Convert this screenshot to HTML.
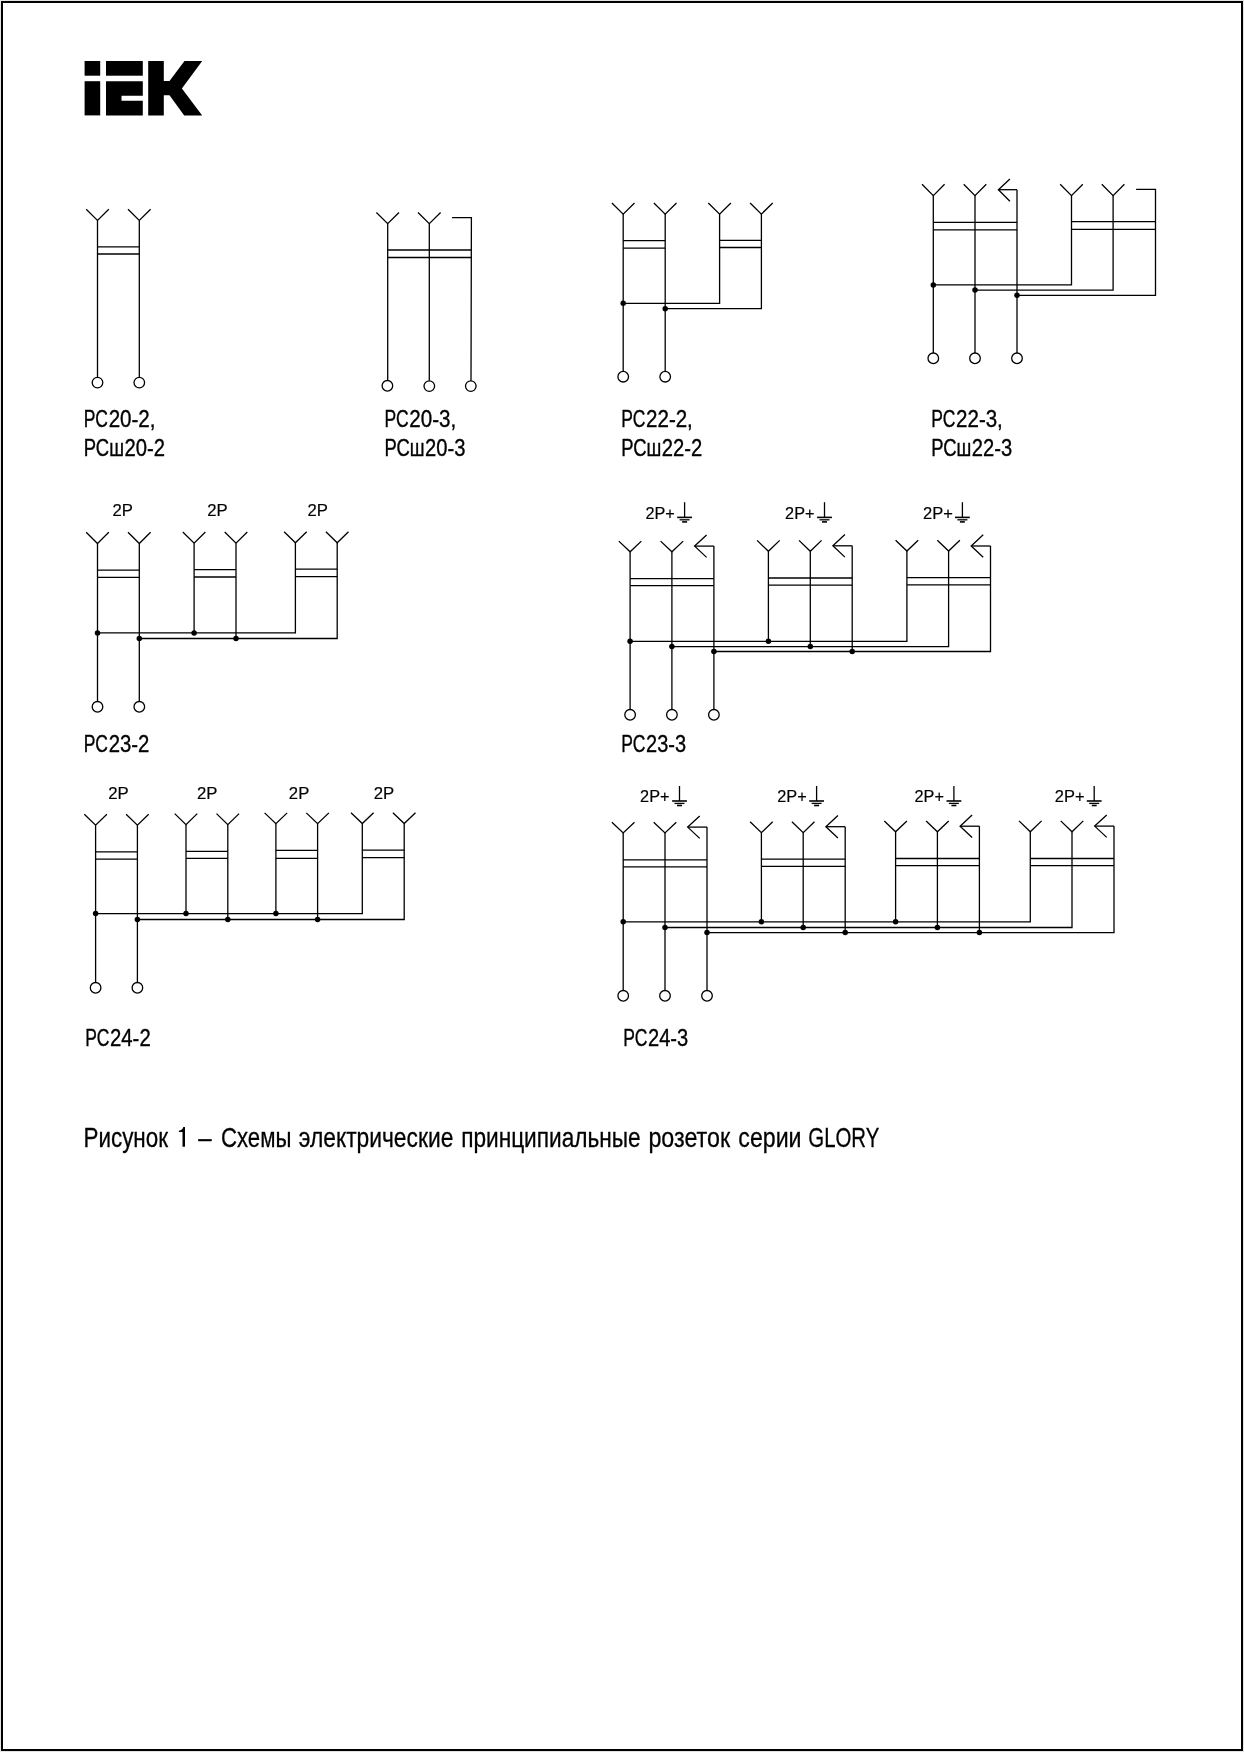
<!DOCTYPE html>
<html lang="ru">
<head>
<meta charset="utf-8">
<title>IEK – Схемы электрические принципиальные розеток серии GLORY</title>
<style>
html,body{margin:0;padding:0;background:#fff;}
body{width:1244px;height:1752px;overflow:hidden;font-family:"Liberation Sans",sans-serif;}
svg{display:block;}
svg text{font-family:"Liberation Sans",sans-serif;fill:#000;}
</style>
</head>
<body>
<svg width="1244" height="1752" viewBox="0 0 1244 1752">
<rect x="0" y="0" width="1244" height="1752" fill="#e4e4e4"/>
<rect x="2" y="2" width="1240" height="1748" fill="#fff" stroke="#000" stroke-width="2"/>
<g fill="#000" stroke="none">
<rect x="84.6" y="61" width="15.6" height="14.7"/>
<rect x="84.6" y="81.2" width="15.6" height="34.2"/>
<rect x="106" y="61" width="36.8" height="14.7"/>
<path d="M106 81.2H142.8V95.7H121.5V100.8H142.8V115.4H106Z"/>
<path d="M148.2 61H163.8V81H169.5L184.5 61H202.2L181.9 88.5L202.2 115.4H184.2L169.5 95.3H163.8V115.4H148.2Z"/>
</g>
<g fill="none" stroke="#000" stroke-width="1.3" stroke-linecap="butt" stroke-linejoin="miter">
<polyline points="86.2,209.3 97.5,220.4 108.8,209.3"/>
<line x1="97.5" y1="220.4" x2="97.5" y2="377.3"/>
<circle cx="97.5" cy="382.6" r="5.3"/>
<polyline points="128.0,209.3 139.3,220.4 150.6,209.3"/>
<line x1="139.3" y1="220.4" x2="139.3" y2="377.3"/>
<circle cx="139.3" cy="382.6" r="5.3"/>
<line x1="97.5" y1="246.8" x2="139.3" y2="246.8"/>
<line x1="97.5" y1="254.0" x2="139.3" y2="254.0"/>
<polyline points="376.4,212.5 387.7,223.6 399.0,212.5"/>
<line x1="387.7" y1="223.6" x2="387.7" y2="380.5"/>
<circle cx="387.4" cy="385.8" r="5.3"/>
<polyline points="418.0,212.5 429.3,223.6 440.6,212.5"/>
<line x1="429.3" y1="223.6" x2="429.3" y2="380.8"/>
<circle cx="429.3" cy="386.1" r="5.3"/>
<polyline points="452.1,217.7 471.4,217.7 471.0,380.8"/>
<circle cx="470.8" cy="386.1" r="5.3"/>
<line x1="387.7" y1="250.0" x2="471.4" y2="250.0"/>
<line x1="387.7" y1="257.5" x2="471.4" y2="257.5"/>
<polyline points="611.9,203.0 623.2,214.1 634.5,203.0"/>
<polyline points="653.9,203.0 665.2,214.1 676.5,203.0"/>
<polyline points="708.3,203.0 719.6,214.1 730.9,203.0"/>
<polyline points="750.1,203.0 761.4,214.1 772.7,203.0"/>
<line x1="623.2" y1="214.1" x2="623.2" y2="371.4"/>
<circle cx="623.2" cy="376.7" r="5.3"/>
<line x1="665.2" y1="214.1" x2="665.2" y2="371.4"/>
<circle cx="665.2" cy="376.7" r="5.3"/>
<polyline points="719.6,214.1 719.6,303.3 623.2,303.3"/>
<circle cx="623.2" cy="303.3" r="2.75" fill="#000" stroke="none"/>
<polyline points="761.4,214.1 761.4,308.7 665.2,308.7"/>
<circle cx="665.2" cy="308.7" r="2.75" fill="#000" stroke="none"/>
<line x1="623.2" y1="240.7" x2="665.2" y2="240.7"/>
<line x1="623.2" y1="248.1" x2="665.2" y2="248.1"/>
<line x1="719.6" y1="240.3" x2="761.4" y2="240.3"/>
<line x1="719.6" y1="247.5" x2="761.4" y2="247.5"/>
<polyline points="922.0,184.3 933.3,195.6 944.6,184.3"/>
<polyline points="963.7,184.3 975.0,195.6 986.3,184.3"/>
<polyline points="1060.2,184.3 1071.5,195.6 1082.8,184.3"/>
<polyline points="1101.8,184.3 1113.1,195.6 1124.4,184.3"/>
<line x1="933.3" y1="195.6" x2="933.3" y2="353.0"/>
<circle cx="933.3" cy="358.3" r="5.3"/>
<line x1="975.0" y1="195.6" x2="975.0" y2="353.0"/>
<circle cx="975.0" cy="358.3" r="5.3"/>
<line x1="998.4" y1="189.7" x2="1017.0" y2="189.7"/>
<polyline points="1009.9,179.1 998.4,189.7 1009.9,201.2"/>
<line x1="1017.0" y1="189.7" x2="1017.0" y2="353.0"/>
<circle cx="1017.0" cy="358.3" r="5.3"/>
<polyline points="1071.5,195.6 1071.5,284.9 933.3,284.9"/>
<circle cx="933.3" cy="284.9" r="2.75" fill="#000" stroke="none"/>
<polyline points="1113.1,195.6 1113.1,290.1 975.0,290.1"/>
<circle cx="975.0" cy="290.1" r="2.75" fill="#000" stroke="none"/>
<polyline points="1136.1,189.3 1155.5,189.3 1155.5,295.3 1017.0,295.3"/>
<circle cx="1017.0" cy="295.3" r="2.75" fill="#000" stroke="none"/>
<line x1="933.3" y1="222.3" x2="1017.0" y2="222.3"/>
<line x1="933.3" y1="229.8" x2="1017.0" y2="229.8"/>
<line x1="1071.5" y1="221.7" x2="1155.5" y2="221.7"/>
<line x1="1071.5" y1="229.4" x2="1155.5" y2="229.4"/>
<polyline points="86.2,532.3 97.5,543.5 108.8,532.3"/>
<polyline points="128.0,532.3 139.3,543.5 150.6,532.3"/>
<line x1="97.5" y1="570.2" x2="139.3" y2="570.2"/>
<line x1="97.5" y1="577.4" x2="139.3" y2="577.4"/>
<polyline points="182.8,532.0 194.1,543.2 205.4,532.0"/>
<polyline points="224.7,532.0 236.0,543.2 247.3,532.0"/>
<line x1="194.1" y1="569.6" x2="236.0" y2="569.6"/>
<line x1="194.1" y1="577.0" x2="236.0" y2="577.0"/>
<polyline points="284.1,531.7 295.4,542.8 306.7,531.7"/>
<polyline points="325.9,531.7 337.2,542.8 348.5,531.7"/>
<line x1="295.4" y1="569.2" x2="337.2" y2="569.2"/>
<line x1="295.4" y1="576.7" x2="337.2" y2="576.7"/>
<line x1="97.5" y1="543.5" x2="97.5" y2="701.5"/>
<circle cx="97.5" cy="706.8" r="5.3"/>
<line x1="139.3" y1="543.5" x2="139.3" y2="701.5"/>
<circle cx="139.3" cy="706.8" r="5.3"/>
<line x1="194.1" y1="543.2" x2="194.1" y2="632.9"/>
<line x1="236.0" y1="543.2" x2="236.0" y2="638.5"/>
<polyline points="295.4,542.8 295.4,632.9 97.5,632.9"/>
<polyline points="337.2,542.8 337.2,638.5 139.3,638.5"/>
<circle cx="97.5" cy="632.9" r="2.75" fill="#000" stroke="none"/>
<circle cx="194.1" cy="632.9" r="2.75" fill="#000" stroke="none"/>
<circle cx="139.3" cy="638.5" r="2.75" fill="#000" stroke="none"/>
<circle cx="236.0" cy="638.5" r="2.75" fill="#000" stroke="none"/>
<polyline points="618.8,541.1 630.1,551.8 641.4,541.1"/>
<polyline points="660.6,541.1 671.9,551.8 683.2,541.1"/>
<line x1="694.6" y1="546.1" x2="713.9" y2="546.1"/>
<polyline points="706.6,534.9 694.6,546.1 706.6,557.4"/>
<line x1="630.1" y1="578.6" x2="713.9" y2="578.6"/>
<line x1="630.1" y1="585.6" x2="713.9" y2="585.6"/>
<polyline points="757.1,540.4 768.4,551.3 779.7,540.4"/>
<polyline points="799.0,540.4 810.3,551.3 821.6,540.4"/>
<line x1="832.9" y1="545.8" x2="852.2" y2="545.8"/>
<polyline points="844.9,534.6 832.9,545.8 844.9,557.1"/>
<line x1="768.4" y1="578.0" x2="852.2" y2="578.0"/>
<line x1="768.4" y1="585.2" x2="852.2" y2="585.2"/>
<polyline points="895.6,540.2 906.9,551.0 918.2,540.2"/>
<polyline points="937.3,540.2 948.6,551.0 959.9,540.2"/>
<line x1="971.2" y1="546.0" x2="990.5" y2="546.0"/>
<polyline points="983.2,534.8 971.2,546.0 983.2,557.3"/>
<line x1="906.9" y1="577.6" x2="990.5" y2="577.6"/>
<line x1="906.9" y1="584.9" x2="990.5" y2="584.9"/>
<line x1="630.1" y1="551.8" x2="630.1" y2="709.5"/>
<circle cx="630.1" cy="714.8" r="5.3"/>
<circle cx="630.1" cy="641.3" r="2.75" fill="#000" stroke="none"/>
<line x1="671.9" y1="551.8" x2="671.9" y2="709.5"/>
<circle cx="671.9" cy="714.8" r="5.3"/>
<circle cx="671.9" cy="646.6" r="2.75" fill="#000" stroke="none"/>
<line x1="713.9" y1="546.1" x2="713.9" y2="709.5"/>
<circle cx="713.9" cy="714.8" r="5.3"/>
<circle cx="713.9" cy="651.5" r="2.75" fill="#000" stroke="none"/>
<line x1="768.4" y1="551.3" x2="768.4" y2="641.3"/>
<circle cx="768.4" cy="641.3" r="2.75" fill="#000" stroke="none"/>
<line x1="810.3" y1="551.3" x2="810.3" y2="646.6"/>
<circle cx="810.3" cy="646.6" r="2.75" fill="#000" stroke="none"/>
<line x1="852.2" y1="545.8" x2="852.2" y2="651.5"/>
<circle cx="852.2" cy="651.5" r="2.75" fill="#000" stroke="none"/>
<polyline points="906.9,551.0 906.9,641.3 630.1,641.3"/>
<polyline points="948.6,551.0 948.6,646.6 671.9,646.6"/>
<polyline points="990.5,546.0 990.5,651.5 713.9,651.5"/>
<polyline points="84.3,814.3 95.6,825.2 106.9,814.3"/>
<polyline points="126.1,814.3 137.4,825.2 148.7,814.3"/>
<line x1="95.6" y1="851.9" x2="137.4" y2="851.9"/>
<line x1="95.6" y1="859.1" x2="137.4" y2="859.1"/>
<polyline points="174.7,813.6 186.0,824.6 197.3,813.6"/>
<polyline points="216.5,813.6 227.8,824.6 239.1,813.6"/>
<line x1="186.0" y1="851.4" x2="227.8" y2="851.4"/>
<line x1="186.0" y1="858.4" x2="227.8" y2="858.4"/>
<polyline points="264.6,812.9 275.9,823.6 287.2,812.9"/>
<polyline points="306.3,812.9 317.6,823.6 328.9,812.9"/>
<line x1="275.9" y1="850.4" x2="317.6" y2="850.4"/>
<line x1="275.9" y1="858.3" x2="317.6" y2="858.3"/>
<polyline points="351.0,812.8 362.3,823.5 373.6,812.8"/>
<polyline points="392.9,812.8 404.2,823.5 415.5,812.8"/>
<line x1="362.3" y1="850.2" x2="404.2" y2="850.2"/>
<line x1="362.3" y1="857.6" x2="404.2" y2="857.6"/>
<line x1="95.6" y1="825.2" x2="95.6" y2="982.5"/>
<circle cx="95.6" cy="987.8" r="5.3"/>
<line x1="137.4" y1="825.2" x2="137.4" y2="982.5"/>
<circle cx="137.4" cy="987.8" r="5.3"/>
<line x1="186.0" y1="824.6" x2="186.0" y2="913.6"/>
<line x1="227.8" y1="824.6" x2="227.8" y2="919.5"/>
<line x1="275.9" y1="823.6" x2="275.9" y2="913.6"/>
<line x1="317.6" y1="823.6" x2="317.6" y2="919.5"/>
<polyline points="362.3,823.5 362.3,913.6 95.6,913.6"/>
<polyline points="404.2,823.5 404.2,919.5 137.4,919.5"/>
<circle cx="95.6" cy="913.6" r="2.75" fill="#000" stroke="none"/>
<circle cx="186.0" cy="913.6" r="2.75" fill="#000" stroke="none"/>
<circle cx="275.9" cy="913.6" r="2.75" fill="#000" stroke="none"/>
<circle cx="137.4" cy="919.5" r="2.75" fill="#000" stroke="none"/>
<circle cx="227.8" cy="919.5" r="2.75" fill="#000" stroke="none"/>
<circle cx="317.6" cy="919.5" r="2.75" fill="#000" stroke="none"/>
<polyline points="611.9,822.3 623.2,832.9 634.5,822.3"/>
<polyline points="653.7,822.3 665.0,832.9 676.3,822.3"/>
<line x1="687.7" y1="827.1" x2="707.0" y2="827.1"/>
<polyline points="699.7,815.9 687.7,827.1 699.7,838.4"/>
<line x1="623.2" y1="859.8" x2="707.0" y2="859.8"/>
<line x1="623.2" y1="866.8" x2="707.0" y2="866.8"/>
<polyline points="750.1,821.8 761.4,832.6 772.7,821.8"/>
<polyline points="791.9,821.8 803.2,832.6 814.5,821.8"/>
<line x1="825.9" y1="826.7" x2="845.2" y2="826.7"/>
<polyline points="837.9,815.5 825.9,826.7 837.9,838.0"/>
<line x1="761.4" y1="859.2" x2="845.2" y2="859.2"/>
<line x1="761.4" y1="866.4" x2="845.2" y2="866.4"/>
<polyline points="884.3,821.0 895.6,831.8 906.9,821.0"/>
<polyline points="926.1,821.0 937.4,831.8 948.7,821.0"/>
<line x1="960.1" y1="826.2" x2="979.4" y2="826.2"/>
<polyline points="972.1,815.0 960.1,826.2 972.1,837.5"/>
<line x1="895.6" y1="858.5" x2="979.4" y2="858.5"/>
<line x1="895.6" y1="865.6" x2="979.4" y2="865.6"/>
<polyline points="1019.0,820.9 1030.3,831.8 1041.6,820.9"/>
<polyline points="1060.7,820.9 1072.0,831.8 1083.3,820.9"/>
<line x1="1094.7" y1="826.1" x2="1114.0" y2="826.1"/>
<polyline points="1106.7,814.9 1094.7,826.1 1106.7,837.4"/>
<line x1="1030.3" y1="858.5" x2="1114.0" y2="858.5"/>
<line x1="1030.3" y1="865.6" x2="1114.0" y2="865.6"/>
<line x1="623.2" y1="832.9" x2="623.2" y2="990.5"/>
<circle cx="623.2" cy="995.8" r="5.3"/>
<circle cx="623.2" cy="921.8" r="2.75" fill="#000" stroke="none"/>
<line x1="665.0" y1="832.9" x2="665.0" y2="990.5"/>
<circle cx="665.0" cy="995.8" r="5.3"/>
<circle cx="665.0" cy="927.5" r="2.75" fill="#000" stroke="none"/>
<line x1="707.0" y1="827.1" x2="707.0" y2="990.5"/>
<circle cx="707.0" cy="995.8" r="5.3"/>
<circle cx="707.0" cy="932.6" r="2.75" fill="#000" stroke="none"/>
<line x1="761.4" y1="832.6" x2="761.4" y2="921.8"/>
<circle cx="761.4" cy="921.8" r="2.75" fill="#000" stroke="none"/>
<line x1="803.2" y1="832.6" x2="803.2" y2="927.5"/>
<circle cx="803.2" cy="927.5" r="2.75" fill="#000" stroke="none"/>
<line x1="845.2" y1="826.7" x2="845.2" y2="932.6"/>
<circle cx="845.2" cy="932.6" r="2.75" fill="#000" stroke="none"/>
<line x1="895.6" y1="831.8" x2="895.6" y2="921.8"/>
<circle cx="895.6" cy="921.8" r="2.75" fill="#000" stroke="none"/>
<line x1="937.4" y1="831.8" x2="937.4" y2="927.5"/>
<circle cx="937.4" cy="927.5" r="2.75" fill="#000" stroke="none"/>
<line x1="979.4" y1="826.2" x2="979.4" y2="932.6"/>
<circle cx="979.4" cy="932.6" r="2.75" fill="#000" stroke="none"/>
<polyline points="1030.3,831.8 1030.3,921.8 623.2,921.8"/>
<polyline points="1072.0,831.8 1072.0,927.5 665.0,927.5"/>
<polyline points="1114.0,826.1 1114.0,932.6 707.0,932.6"/>
<line x1="684.6" y1="502.2" x2="684.6" y2="517.4"/>
<line x1="677.2" y1="517.4" x2="692.0" y2="517.4" stroke-width="1.6"/>
<line x1="679.6" y1="519.8" x2="689.6" y2="519.8" stroke-width="1.3"/>
<line x1="682.1" y1="521.9" x2="687.1" y2="521.9" stroke-width="1.6"/>
<line x1="824.5" y1="502.2" x2="824.5" y2="517.4"/>
<line x1="817.1" y1="517.4" x2="831.9" y2="517.4" stroke-width="1.6"/>
<line x1="819.5" y1="519.8" x2="829.5" y2="519.8" stroke-width="1.3"/>
<line x1="822.0" y1="521.9" x2="827.0" y2="521.9" stroke-width="1.6"/>
<line x1="962.4" y1="502.2" x2="962.4" y2="517.4"/>
<line x1="955.0" y1="517.4" x2="969.8" y2="517.4" stroke-width="1.6"/>
<line x1="957.4" y1="519.8" x2="967.4" y2="519.8" stroke-width="1.3"/>
<line x1="959.9" y1="521.9" x2="964.9" y2="521.9" stroke-width="1.6"/>
<line x1="679.5" y1="786.0" x2="679.5" y2="801.0"/>
<line x1="672.1" y1="801.0" x2="686.9" y2="801.0" stroke-width="1.6"/>
<line x1="674.5" y1="803.4" x2="684.5" y2="803.4" stroke-width="1.3"/>
<line x1="677.0" y1="805.5" x2="682.0" y2="805.5" stroke-width="1.6"/>
<line x1="816.6" y1="786.0" x2="816.6" y2="801.0"/>
<line x1="809.2" y1="801.0" x2="824.0" y2="801.0" stroke-width="1.6"/>
<line x1="811.6" y1="803.4" x2="821.6" y2="803.4" stroke-width="1.3"/>
<line x1="814.1" y1="805.5" x2="819.1" y2="805.5" stroke-width="1.6"/>
<line x1="953.9" y1="786.0" x2="953.9" y2="801.0"/>
<line x1="946.5" y1="801.0" x2="961.3" y2="801.0" stroke-width="1.6"/>
<line x1="948.9" y1="803.4" x2="958.9" y2="803.4" stroke-width="1.3"/>
<line x1="951.4" y1="805.5" x2="956.4" y2="805.5" stroke-width="1.6"/>
<line x1="1094.2" y1="786.0" x2="1094.2" y2="801.0"/>
<line x1="1086.8" y1="801.0" x2="1101.6" y2="801.0" stroke-width="1.6"/>
<line x1="1089.2" y1="803.4" x2="1099.2" y2="803.4" stroke-width="1.3"/>
<line x1="1091.8" y1="805.5" x2="1096.7" y2="805.5" stroke-width="1.6"/>
</g>
<g style="opacity:0.999">
<text transform="translate(83.87,427.4) scale(0.7106,1)" font-size="24.6" stroke="#000" stroke-width="0.4">РС</text>
<text transform="translate(108.67,427.4) scale(0.8360,1)" font-size="24.6" stroke="#000" stroke-width="0.4">20-2,</text>
<text transform="translate(83.79,455.6) scale(0.7493,1)" font-size="24.6" stroke="#000" stroke-width="0.4">РСш</text>
<text transform="translate(124.39,455.6) scale(0.8231,1)" font-size="24.6" stroke="#000" stroke-width="0.4">20-2</text>
<text transform="translate(384.57,427.4) scale(0.7106,1)" font-size="24.6" stroke="#000" stroke-width="0.4">РС</text>
<text transform="translate(409.37,427.4) scale(0.8360,1)" font-size="24.6" stroke="#000" stroke-width="0.4">20-3,</text>
<text transform="translate(384.49,455.6) scale(0.7493,1)" font-size="24.6" stroke="#000" stroke-width="0.4">РСш</text>
<text transform="translate(425.09,455.6) scale(0.8203,1)" font-size="24.6" stroke="#000" stroke-width="0.4">20-3</text>
<text transform="translate(621.27,427.4) scale(0.7106,1)" font-size="24.6" stroke="#000" stroke-width="0.4">РС</text>
<text transform="translate(646.07,427.4) scale(0.8341,1)" font-size="24.6" stroke="#000" stroke-width="0.4">22-2,</text>
<text transform="translate(621.19,455.6) scale(0.7493,1)" font-size="24.6" stroke="#000" stroke-width="0.4">РСш</text>
<text transform="translate(661.79,455.6) scale(0.8231,1)" font-size="24.6" stroke="#000" stroke-width="0.4">22-2</text>
<text transform="translate(931.27,427.4) scale(0.7106,1)" font-size="24.6" stroke="#000" stroke-width="0.4">РС</text>
<text transform="translate(956.07,427.4) scale(0.8341,1)" font-size="24.6" stroke="#000" stroke-width="0.4">22-3,</text>
<text transform="translate(931.19,455.6) scale(0.7493,1)" font-size="24.6" stroke="#000" stroke-width="0.4">РСш</text>
<text transform="translate(971.79,455.6) scale(0.8203,1)" font-size="24.6" stroke="#000" stroke-width="0.4">22-3</text>
<text transform="translate(83.87,752.0) scale(0.7106,1)" font-size="24.6" stroke="#000" stroke-width="0.4">РС</text>
<text transform="translate(108.69,752.0) scale(0.8252,1)" font-size="24.6" stroke="#000" stroke-width="0.4">23-2</text>
<text transform="translate(621.27,752.0) scale(0.7106,1)" font-size="24.6" stroke="#000" stroke-width="0.4">РС</text>
<text transform="translate(646.10,752.0) scale(0.8117,1)" font-size="24.6" stroke="#000" stroke-width="0.4">23-3</text>
<text transform="translate(85.22,1045.8) scale(0.7106,1)" font-size="24.6" stroke="#000" stroke-width="0.4">РС</text>
<text transform="translate(110.03,1045.8) scale(0.8263,1)" font-size="24.6" stroke="#000" stroke-width="0.4">24-2</text>
<text transform="translate(623.17,1045.6) scale(0.7106,1)" font-size="24.6" stroke="#000" stroke-width="0.4">РС</text>
<text transform="translate(648.00,1045.6) scale(0.8160,1)" font-size="24.6" stroke="#000" stroke-width="0.4">24-3</text>
<text transform="translate(83.46,1146.7) scale(0.8043,1)" font-size="27.9" stroke="#000" stroke-width="0.3">Рисунок</text>
<path d="M185.0 1127.1H183.3Q182.5 1130.3 178.9 1130.8V1132.0H182.5V1146.7H185.0Z" fill="#000"/>
<text transform="translate(198.30,1146.7) scale(0.8574,1)" font-size="27.9" stroke="#000" stroke-width="0.3">–</text>
<text transform="translate(220.98,1146.7) scale(0.7958,1)" font-size="27.9" stroke="#000" stroke-width="0.3">Схемы</text>
<text transform="translate(298.80,1146.7) scale(0.8175,1)" font-size="27.9" stroke="#000" stroke-width="0.3">электрические</text>
<text transform="translate(461.14,1146.7) scale(0.8118,1)" font-size="27.9" stroke="#000" stroke-width="0.3">принципиальные</text>
<text transform="translate(648.41,1146.7) scale(0.8346,1)" font-size="27.9" stroke="#000" stroke-width="0.3">розеток</text>
<text transform="translate(738.33,1146.7) scale(0.8295,1)" font-size="27.9" stroke="#000" stroke-width="0.3">серии</text>
<text transform="translate(808.28,1146.7) scale(0.7313,1)" font-size="27.9" stroke="#000" stroke-width="0.3">GLORY</text>
<text transform="translate(112.47,515.9) scale(0.9817,1)" font-size="17.0" stroke="#000" stroke-width="0.2">2P</text>
<text transform="translate(207.17,515.9) scale(0.9817,1)" font-size="17.0" stroke="#000" stroke-width="0.2">2P</text>
<text transform="translate(307.47,515.9) scale(0.9817,1)" font-size="17.0" stroke="#000" stroke-width="0.2">2P</text>
<text transform="translate(645.39,518.6) scale(0.9574,1)" font-size="17.0" stroke="#000" stroke-width="0.2">2P+</text>
<text transform="translate(785.09,518.6) scale(0.9574,1)" font-size="17.0" stroke="#000" stroke-width="0.2">2P+</text>
<text transform="translate(922.97,518.6) scale(0.9712,1)" font-size="17.0" stroke="#000" stroke-width="0.2">2P+</text>
<text transform="translate(108.26,798.7) scale(0.9870,1)" font-size="17.0" stroke="#000" stroke-width="0.2">2P</text>
<text transform="translate(196.96,798.7) scale(0.9870,1)" font-size="17.0" stroke="#000" stroke-width="0.2">2P</text>
<text transform="translate(288.87,798.7) scale(0.9817,1)" font-size="17.0" stroke="#000" stroke-width="0.2">2P</text>
<text transform="translate(373.66,798.7) scale(0.9870,1)" font-size="17.0" stroke="#000" stroke-width="0.2">2P</text>
<text transform="translate(640.09,802.0) scale(0.9574,1)" font-size="17.0" stroke="#000" stroke-width="0.2">2P+</text>
<text transform="translate(777.18,802.0) scale(0.9609,1)" font-size="17.0" stroke="#000" stroke-width="0.2">2P+</text>
<text transform="translate(914.49,802.0) scale(0.9574,1)" font-size="17.0" stroke="#000" stroke-width="0.2">2P+</text>
<text transform="translate(1054.78,802.0) scale(0.9678,1)" font-size="17.0" stroke="#000" stroke-width="0.2">2P+</text>
</g>
</svg>
</body>
</html>
